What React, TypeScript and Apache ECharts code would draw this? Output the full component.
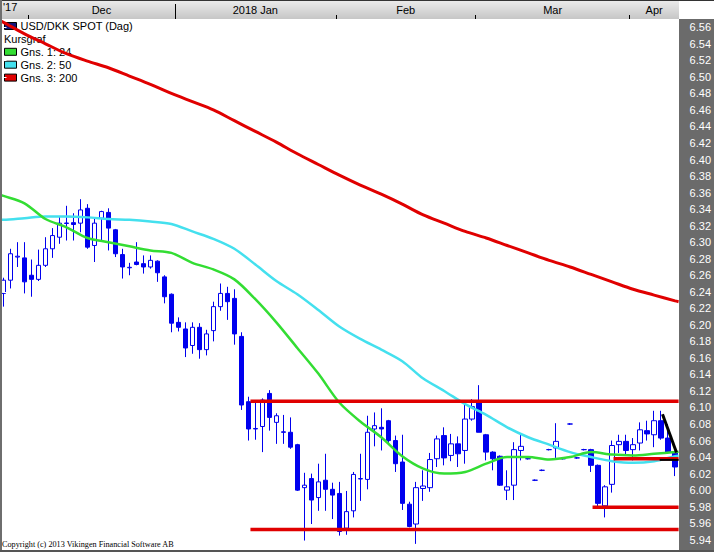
import { useEffect, useRef } from 'react';
import * as echarts from 'echarts';

// ---------------- data ----------------
const firstDay = '2017-11-27';
const lastDay = '2018-04-10';

function tradingDays(from: string, to: string): string[] {
  const out: string[] = [];
  const d = new Date(from + 'T00:00:00Z');
  const end = new Date(to + 'T00:00:00Z');
  while (d <= end) {
    const wd = d.getUTCDay();
    if (wd !== 0 && wd !== 6) out.push(d.toISOString().slice(0, 10));
    d.setUTCDate(d.getUTCDate() + 1);
  }
  return out;
}
const dates = tradingDays(firstDay, lastDay);

const monthNames = ['Jan', 'Feb', 'Mar', 'Apr', 'May', 'Jun', 'Jul', 'Aug', 'Sep', 'Oct', 'Nov', 'Dec'];

// [open, close, low, high]
const ohlc: number[][] = [
  [6.238, 6.254, 6.222, 6.257],
  [6.254, 6.286, 6.244, 6.292],
  [6.282, 6.283, 6.270, 6.300],
  [6.281, 6.252, 6.238, 6.300],
  [6.260, 6.255, 6.234, 6.279],
  [6.255, 6.272, 6.253, 6.291],
  [6.272, 6.292, 6.270, 6.306],
  [6.292, 6.308, 6.281, 6.317],
  [6.306, 6.323, 6.298, 6.331],
  [6.3226, 6.3232, 6.302, 6.344],
  [6.3236, 6.3214, 6.302, 6.335],
  [6.323, 6.339, 6.312, 6.352],
  [6.341, 6.294, 6.292, 6.346],
  [6.296, 6.323, 6.276, 6.329],
  [6.329, 6.337, 6.302, 6.338],
  [6.336, 6.317, 6.290, 6.341],
  [6.315, 6.286, 6.282, 6.316],
  [6.285, 6.270, 6.256, 6.292],
  [6.2690, 6.2696, 6.260, 6.275],
  [6.276, 6.273, 6.272, 6.300],
  [6.274, 6.270, 6.262, 6.284],
  [6.270, 6.278, 6.268, 6.284],
  [6.277, 6.263, 6.252, 6.278],
  [6.258, 6.234, 6.226, 6.260],
  [6.237, 6.202, 6.191, 6.238],
  [6.203, 6.197, 6.192, 6.209],
  [6.195, 6.172, 6.161, 6.203],
  [6.175, 6.197, 6.165, 6.203],
  [6.197, 6.170, 6.159, 6.202],
  [6.170, 6.189, 6.163, 6.194],
  [6.193, 6.222, 6.180, 6.228],
  [6.222, 6.238, 6.217, 6.250],
  [6.238, 6.228, 6.206, 6.246],
  [6.232, 6.189, 6.176, 6.243],
  [6.186, 6.103, 6.097, 6.191],
  [6.107, 6.074, 6.060, 6.113],
  [6.0740, 6.0746, 6.061, 6.107],
  [6.077, 6.109, 6.046, 6.111],
  [6.117, 6.088, 6.072, 6.121],
  [6.082, 6.090, 6.056, 6.093],
  [6.0705, 6.0700, 6.056, 6.091],
  [6.070, 6.052, 6.050, 6.088],
  [6.055, 6.000, 5.999, 6.056],
  [6.003, 6.006, 5.939, 6.021],
  [6.014, 5.988, 5.959, 6.020],
  [5.991, 6.010, 5.975, 6.032],
  [6.012, 6.001, 5.975, 6.044],
  [6.001, 5.994, 5.965, 6.009],
  [5.996, 5.950, 5.945, 6.010],
  [5.954, 5.974, 5.946, 5.999],
  [5.975, 6.019, 5.967, 6.022],
  [6.0135, 6.0140, 5.987, 6.044],
  [6.013, 6.070, 6.001, 6.090],
  [6.074, 6.078, 6.053, 6.094],
  [6.076, 6.074, 6.048, 6.099],
  [6.084, 6.060, 6.056, 6.085],
  [6.060, 6.032, 6.022, 6.066],
  [6.034, 5.984, 5.976, 6.067],
  [5.983, 5.956, 5.955, 5.986],
  [5.959, 6.003, 5.935, 6.010],
  [6.002, 6.005, 5.987, 6.024],
  [6.003, 6.037, 5.998, 6.045],
  [6.038, 6.062, 6.028, 6.066],
  [6.066, 6.039, 6.030, 6.076],
  [6.042, 6.056, 6.035, 6.068],
  [6.056, 6.044, 6.028, 6.065],
  [6.048, 6.086, 6.032, 6.107],
  [6.086, 6.101, 6.084, 6.110],
  [6.107, 6.070, 6.070, 6.127],
  [6.067, 6.046, 6.036, 6.068],
  [6.046, 6.038, 6.024, 6.047],
  [6.041, 6.006, 6.005, 6.042],
  [6.000, 6.004, 5.988, 6.024],
  [6.006, 6.049, 5.988, 6.058],
  [6.048, 6.053, 6.036, 6.068],
  [6.038, 6.038, 6.037, 6.039],
  [6.012, 6.012, 6.011, 6.013],
  [6.024, 6.024, 6.023, 6.025],
  [6.049, 6.049, 6.048, 6.050],
  [6.051, 6.059, 6.039, 6.081],
  [6.038, 6.038, 6.037, 6.039],
  [6.080, 6.080, 6.079, 6.081],
  [6.039, 6.039, 6.038, 6.040],
  [6.049, 6.049, 6.048, 6.050],
  [6.049, 6.030, 6.022, 6.050],
  [6.030, 5.984, 5.979, 6.031],
  [5.981, 6.004, 5.967, 6.006],
  [6.007, 6.054, 5.997, 6.060],
  [6.055, 6.059, 6.045, 6.067],
  [6.059, 6.048, 6.043, 6.067],
  [6.049, 6.055, 6.036, 6.063],
  [6.057, 6.073, 6.048, 6.082],
  [6.072, 6.068, 6.060, 6.084],
  [6.067, 6.084, 6.052, 6.096],
  [6.084, 6.063, 6.061, 6.096],
  [6.063, 6.046, 6.044, 6.080],
  [6.046, 6.028, 6.017, 6.046],
];

// moving averages: [candle index, value]
const ma24: number[][] = [
  [-0.5, 6.357], [0, 6.356], [3, 6.347], [6, 6.328], [9, 6.318], [12, 6.305], [15, 6.300],
  [18, 6.295], [21, 6.290], [24, 6.287], [27, 6.275], [30, 6.267], [33, 6.255],
  [36, 6.231], [39, 6.203], [42, 6.172], [45, 6.141], [48, 6.106], [51, 6.083],
  [54, 6.064], [57, 6.041], [60, 6.026], [63, 6.020], [66, 6.022], [69, 6.032],
  [72, 6.040], [75, 6.040], [78, 6.037], [81, 6.040], [84, 6.046], [87, 6.043],
  [90, 6.042], [93, 6.044], [96, 6.046], [96.5, 6.0465],
];
const ma50: number[][] = [
  [-0.5, 6.327], [0, 6.327], [3, 6.329], [6, 6.331], [9, 6.331], [12, 6.330], [15, 6.328],
  [18, 6.327], [21, 6.325], [24, 6.322], [27, 6.313], [30, 6.304], [33, 6.292],
  [36, 6.273], [39, 6.253], [42, 6.237], [45, 6.218], [48, 6.198], [51, 6.183],
  [54, 6.170], [57, 6.156], [60, 6.135], [63, 6.120], [66, 6.104], [69, 6.091],
  [72, 6.076], [75, 6.064], [78, 6.055], [81, 6.046], [84, 6.040], [87, 6.035],
  [90, 6.033], [93, 6.035], [96, 6.041], [96.5, 6.0415],
];
const ma200: number[][] = [
  [-0.5, 6.568], [0, 6.566], [3, 6.552], [6, 6.540], [9, 6.528], [12, 6.519], [15, 6.511],
  [18, 6.501], [21, 6.491], [24, 6.480], [27, 6.470], [30, 6.460], [33, 6.447],
  [36, 6.434], [39, 6.421], [42, 6.407], [45, 6.394], [48, 6.381], [51, 6.369],
  [54, 6.358], [57, 6.346], [60, 6.333], [63, 6.323], [66, 6.313], [69, 6.305],
  [72, 6.296], [75, 6.287], [78, 6.278], [81, 6.270], [84, 6.261], [87, 6.252],
  [90, 6.243], [93, 6.236], [96, 6.229], [96.5, 6.228],
];

// drawn support / resistance levels: [from index, to index, level]
const redLevels: number[][] = [
  [35.3, 96.5, 6.1074],
  [35.3, 96.5, 5.9524],
  [84.2, 96.5, 5.9794],
  [87.2, 96.5, 6.038],
];
const blackLevels: number[][] = [[93.8, 96.5, 6.0366]];
const blackTrend: number[][] = [[94.2, 6.0917], [96.2, 6.0456]];

const legendItems = ['USD/DKK SPOT (Dag)', 'Kursgraf', 'Gns. 1: 24', 'Gns. 2: 50', 'Gns. 3: 200'];
const copyright = 'Copyright (c) 2013 Vikingen Financial Software AB';

// ---------------- styling ----------------
const BLUE = '#0000ee';
const GREEN = '#33dd33';
const CYAN = '#44e0ee';
const RED = '#e00000';
const FONT = '"Liberation Sans", Arial, sans-serif';

// month boundaries / label positions, derived from the trading-day list
const monthBounds: number[] = [];
const yearBounds: number[] = [];
dates.forEach((d, i) => {
  if (i > 0 && d.slice(0, 7) !== dates[i - 1].slice(0, 7)) monthBounds.push(i - 0.5);
  if (i > 0 && d.slice(0, 4) !== dates[i - 1].slice(0, 4)) yearBounds.push(i - 0.5);
});
const monthLabelPos: number[] = [];
const monthLabelText: string[] = [];
monthBounds.forEach((b, k) => {
  const end = k + 1 < monthBounds.length ? monthBounds[k + 1] : dates.length - 0.5;
  const idx = Math.round(b + 0.5);
  const d = dates[idx];
  const m = monthNames[parseInt(d.slice(5, 7), 10) - 1];
  monthLabelPos.push((b + end) / 2);
  monthLabelText.push(yearBounds.includes(b) ? d.slice(0, 4) + ' ' + m : m);
});

function buildOption(): any {
  const xMin = -0.5;
  const xMax = dates.length - 0.5;
  const levelSeries = (arr: number[][], color: string, width: number, z: number) =>
    arr.map((l) => ({
      type: 'line',
      xAxisIndex: 1,
      yAxisIndex: 0,
      data: [[l[0], l[2]], [l[1], l[2]]],
      symbol: 'none',
      silent: true,
      lineStyle: { color, width },
      z,
    }));

  return {
    animation: false,
    grid: { left: 0, right: 35, top: 19, bottom: 4, containLabel: false },
    xAxis: [
      {
        type: 'category',
        data: dates,
        show: false,
        boundaryGap: true,
      },
      {
        type: 'value',
        min: xMin,
        max: xMax,
        show: false,
      },
      {
        type: 'value',
        min: xMin,
        max: xMax,
        position: 'top',
        z: 10,
        axisLine: { show: false },
        splitLine: { show: false },
        axisTick: {
          show: true,
          length: 4,
          customValues: monthBounds,
          lineStyle: { color: '#000', width: 1 },
        },
        axisLabel: {
          show: true,
          customValues: monthLabelPos,
          margin: 4,
          color: '#000',
          fontSize: 11,
          fontFamily: FONT,
          formatter: (v: number) => {
            const k = monthLabelPos.findIndex((p) => Math.abs(p - v) < 0.01);
            return k >= 0 ? monthLabelText[k] : '';
          },
        },
      },
      {
        type: 'value',
        min: xMin,
        max: xMax,
        position: 'top',
        z: 10,
        axisLine: { show: false },
        splitLine: { show: false },
        axisLabel: { show: false },
        axisTick: {
          show: true,
          length: 15,
          customValues: yearBounds,
          lineStyle: { color: '#000', width: 1 },
        },
      },
    ],
    yAxis: [
      {
        type: 'value',
        position: 'right',
        min: 5.93,
        max: 6.57,
        splitNumber: 32,
        minInterval: 0.02,
        maxInterval: 0.02,
        z: 10,
        axisLine: { show: false },
        splitLine: { show: false },
        axisTick: { show: true, length: 3, lineStyle: { color: '#ffffff', width: 1 } },
        axisLabel: {
          color: '#ffffff',
          fontSize: 11,
          fontFamily: FONT,
          margin: 11,
          showMinLabel: false,
          showMaxLabel: false,
          formatter: (v: number) => v.toFixed(2),
        },
      },
    ],
    graphic: [
      {
        type: 'rect',
        z: 0,
        silent: true,
        shape: { x: 0, y: 0, width: 679, height: 19 },
        style: {
          fill: new echarts.graphic.LinearGradient(0, 0, 0, 1, [
            { offset: 0, color: '#ececec' },
            { offset: 1, color: '#c6c6c6' },
          ]),
        },
      },
      {
        type: 'rect',
        z: 0,
        silent: true,
        shape: { x: 679, y: 19, width: 35, height: 533 },
        style: { fill: '#6b6b6b' },
      },
      {
        type: 'line',
        z: 20,
        silent: true,
        shape: { x1: 0, y1: 0.5, x2: 714, y2: 0.5 },
        style: { stroke: '#333333', lineWidth: 1 },
      },
      {
        type: 'line',
        z: 20,
        silent: true,
        shape: { x1: 1, y1: 0, x2: 1, y2: 552 },
        style: { stroke: '#6e6e6e', lineWidth: 2 },
      },
      {
        type: 'line',
        z: 20,
        silent: true,
        shape: { x1: 0, y1: 551, x2: 714, y2: 551 },
        style: { stroke: '#555555', lineWidth: 2 },
      },
      {
        type: 'text',
        z: 11,
        silent: true,
        x: 3,
        y: 7,
        style: { text: "'17", fill: '#000', font: `11px ${FONT}`, verticalAlign: 'middle' },
      },
      // legend
      ...legendItems.flatMap((t, k) => {
        const cy = 26 + k * 12.9;
        const boxColors = ['#14147a', null, GREEN, CYAN, RED];
        const els: any[] = [];
        if (boxColors[k]) {
          els.push({
            type: 'rect',
            z: 1,
            silent: true,
            shape: { x: 4.5, y: cy - 3.5, width: 12, height: 7 },
            style: { fill: boxColors[k], stroke: '#000', lineWidth: 1 },
          });
        }
        els.push({
          type: 'text',
          z: 1,
          silent: true,
          x: boxColors[k] ? 20.5 : 4,
          y: cy,
          style: { text: t, fill: '#000', font: `11px ${FONT}`, verticalAlign: 'middle' },
        });
        return els;
      }),
      {
        type: 'text',
        z: 11,
        silent: true,
        x: 2,
        y: 544.5,
        style: {
          text: copyright,
          fill: '#000',
          font: '8.2px "Liberation Serif", "Times New Roman", serif',
          verticalAlign: 'middle',
        },
      },
    ],
    series: [
      {
        type: 'candlestick',
        xAxisIndex: 0,
        yAxisIndex: 0,
        data: ohlc,
        barWidth: 5,
        silent: true,
        z: 2,
        itemStyle: {
          color: '#ffffff',
          color0: BLUE,
          borderColor: BLUE,
          borderColor0: BLUE,
          borderWidth: 1,
        },
      },
      {
        type: 'line',
        xAxisIndex: 1,
        yAxisIndex: 0,
        data: ma200,
        symbol: 'none',
        smooth: 0.3,
        silent: true,
        lineStyle: { color: RED, width: 3 },
        z: 3,
      },
      {
        type: 'line',
        xAxisIndex: 1,
        yAxisIndex: 0,
        data: ma50,
        symbol: 'none',
        smooth: 0.3,
        silent: true,
        lineStyle: { color: CYAN, width: 2.5 },
        z: 3,
      },
      {
        type: 'line',
        xAxisIndex: 1,
        yAxisIndex: 0,
        data: ma24,
        symbol: 'none',
        smooth: 0.3,
        silent: true,
        lineStyle: { color: GREEN, width: 2.5 },
        z: 3,
      },
      ...levelSeries(redLevels, RED, 3.5, 4),
      ...levelSeries(blackLevels, '#000000', 2, 5),
      {
        type: 'line',
        xAxisIndex: 1,
        yAxisIndex: 0,
        data: blackTrend,
        symbol: 'none',
        silent: true,
        lineStyle: { color: '#000000', width: 3 },
        z: 5,
      },
    ],
  };
}

export default function App() {
  const ref = useRef<HTMLDivElement>(null);
  useEffect(() => {
    if (!ref.current) return;
    const chart = echarts.init(ref.current, undefined, { renderer: 'svg' });
    chart.setOption(buildOption());
    return () => chart.dispose();
  }, []);
  return (
    <div
      ref={ref}
      style={{ position: 'fixed', left: 0, top: 0, width: 714, height: 552, background: '#ffffff' }}
    />
  );
}
